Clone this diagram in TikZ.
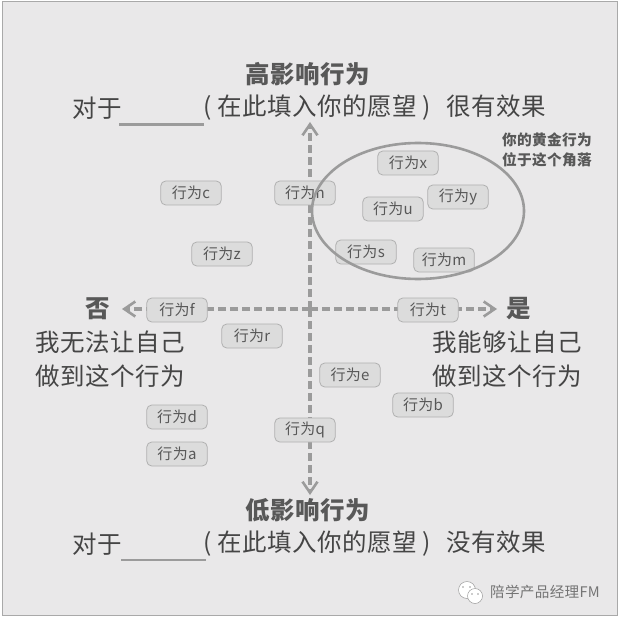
\documentclass[tikz,border=0pt]{standalone}
\usepackage{fontspec}
\usepackage{xcolor}
\usepackage{tikz}
\usetikzlibrary{arrows.meta,positioning,shapes.geometric}
\setmainfont[LetterSpace=2]{Noto Sans CJK SC}
\definecolor{wxbg}{HTML}{E9E8E9}
\definecolor{wxframe}{HTML}{A9A9A9}
\definecolor{wxline}{HTML}{9B9B9B}
\definecolor{wxtext}{HTML}{454545}
\definecolor{wxchip}{HTML}{DCDCDC}
\definecolor{wxchipline}{HTML}{B0B0B0}
\begin{document}
\begin{tikzpicture}[x=1pt,y=-1pt,
  chip/.style={rectangle, rounded corners=5pt, draw=wxchipline, line width=0.8pt, fill=wxchip, text=wxtext!90, minimum width=60.5pt, minimum height=24pt, inner sep=0pt, font=\fontsize{15}{15}\selectfont},
  big/.style={text=wxtext, inner sep=0pt, font=\fontsize{24.5}{24.5}\selectfont},
  head/.style={text=wxtext!90, inner sep=0pt, font=\fontsize{24.5}{24.5}\selectfont\bfseries},
  two/.style={text=wxtext, inner sep=0pt, align=left, font=\fontsize{24.5}{34}\selectfont},
  blank/.style={draw=wxline, line width=2.4pt},
  axisline/.style={draw=wxline, line width=3.2pt, dash pattern=on 8pt off 4pt, -{Straight Barb[length=11pt,width=15pt,line width=2.6pt]}},
  bubble/.style={circle, fill=white, draw=wxline, line width=0.5pt, inner sep=0pt}]
\useasboundingbox (0,0) rectangle (619,620);
\node[draw=wxframe, fill=wxbg, line width=1pt, minimum width=615pt, minimum height=614pt, inner sep=0pt] (frame) at (309.5,308.5) {};
% axes
\coordinate (mid) at (310,309);
\coordinate (top) at (310,122);
\coordinate (bottom) at (310,495);
\coordinate (left) at (122,309);
\coordinate (right) at (497,309);
\draw[axisline] (mid) -- (top);
\draw[axisline] (mid) -- (bottom);
\draw[axisline] (mid) -- (left);
\draw[axisline] (mid) -- (right);
% top and bottom captions
\node[head] (hightitle) at (308,74) {高影响行为};
\node[big, anchor=west] (highfor) at (72,108) {对于};
\node[big, anchor=west] (highwish) at (203,108) {( 在此填入你的愿望 )\hspace{15pt}很有效果};
\coordinate (higha) at (119,124.5);
\coordinate (highb) at (204,124.5);
\draw[blank] (higha) -- (highb);
\node[head] (lowtitle) at (308,510) {低影响行为};
\node[big, anchor=west] (lowfor) at (72,544) {对于};
\node[big, anchor=west] (lowwish) at (203,544) {( 在此填入你的愿望 )\hspace{15pt}没有效果};
\coordinate (lowa) at (121,560);
\coordinate (lowb) at (206,560);
\draw[blank] (lowa) -- (lowb);
% side captions
\node[head] (no) at (98,309) {否};
\node[two, anchor=north west] (nobox) at (35,331) {我无法让自己\\做到这个行为};
\node[head] (yes) at (519,309) {是};
\node[two, anchor=north west] (yesbox) at (432,331) {我能够让自己\\做到这个行为};
% behaviours
\node[chip] (bc) at (191,193) {行为c};
\node[chip] (bn) at (305,193) {行为n};
\node[chip] (bx) at (408,163) {行为x};
\node[chip] (by) at (458,197) {行为y};
\node[chip] (bu) at (393,209) {行为u};
\node[chip] (bs) at (366,252) {行为s};
\node[chip] (bm) at (444,260) {行为m};
\node[chip] (bz) at (222,254) {行为z};
\node[chip] (bf) at (177,310) {行为f};
\node[chip] (bt) at (428,310) {行为t};
\node[chip] (br) at (252,336) {行为r};
\node[chip] (be) at (350,375) {行为e};
\node[chip] (bb) at (423,405) {行为b};
\node[chip] (bd) at (177,417) {行为d};
\node[chip] (bq) at (305,430) {行为q};
\node[chip] (ba) at (177,454) {行为a};
% golden corner
\node[draw=wxline, line width=2.6pt, ellipse, minimum width=212pt, minimum height=136pt, inner sep=0pt] (gold) at (418,211) {};
\node[text=wxtext!90, inner sep=0pt, align=left, anchor=north west, font=\fontsize{14.7}{20}\selectfont\bfseries] (goldnote) at (502,133) {你的黄金行为\\位于这个角落};
% footer mark
\node[text=wxtext!75, inner sep=0pt, anchor=west, font=\fontsize{14.6}{14.6}\selectfont] (mark) at (490,592) {陪学产品经理FM};
\node[bubble, minimum size=17pt] (bubblea) at (467,590) {};
\node[bubble, minimum size=15pt] (bubbleb) at (475,596) {};
\fill[wxline] (463,587) circle (0.9pt) (470,587) circle (0.9pt) (472,594) circle (0.8pt) (478,594) circle (0.8pt);
\end{tikzpicture}
\end{document}
